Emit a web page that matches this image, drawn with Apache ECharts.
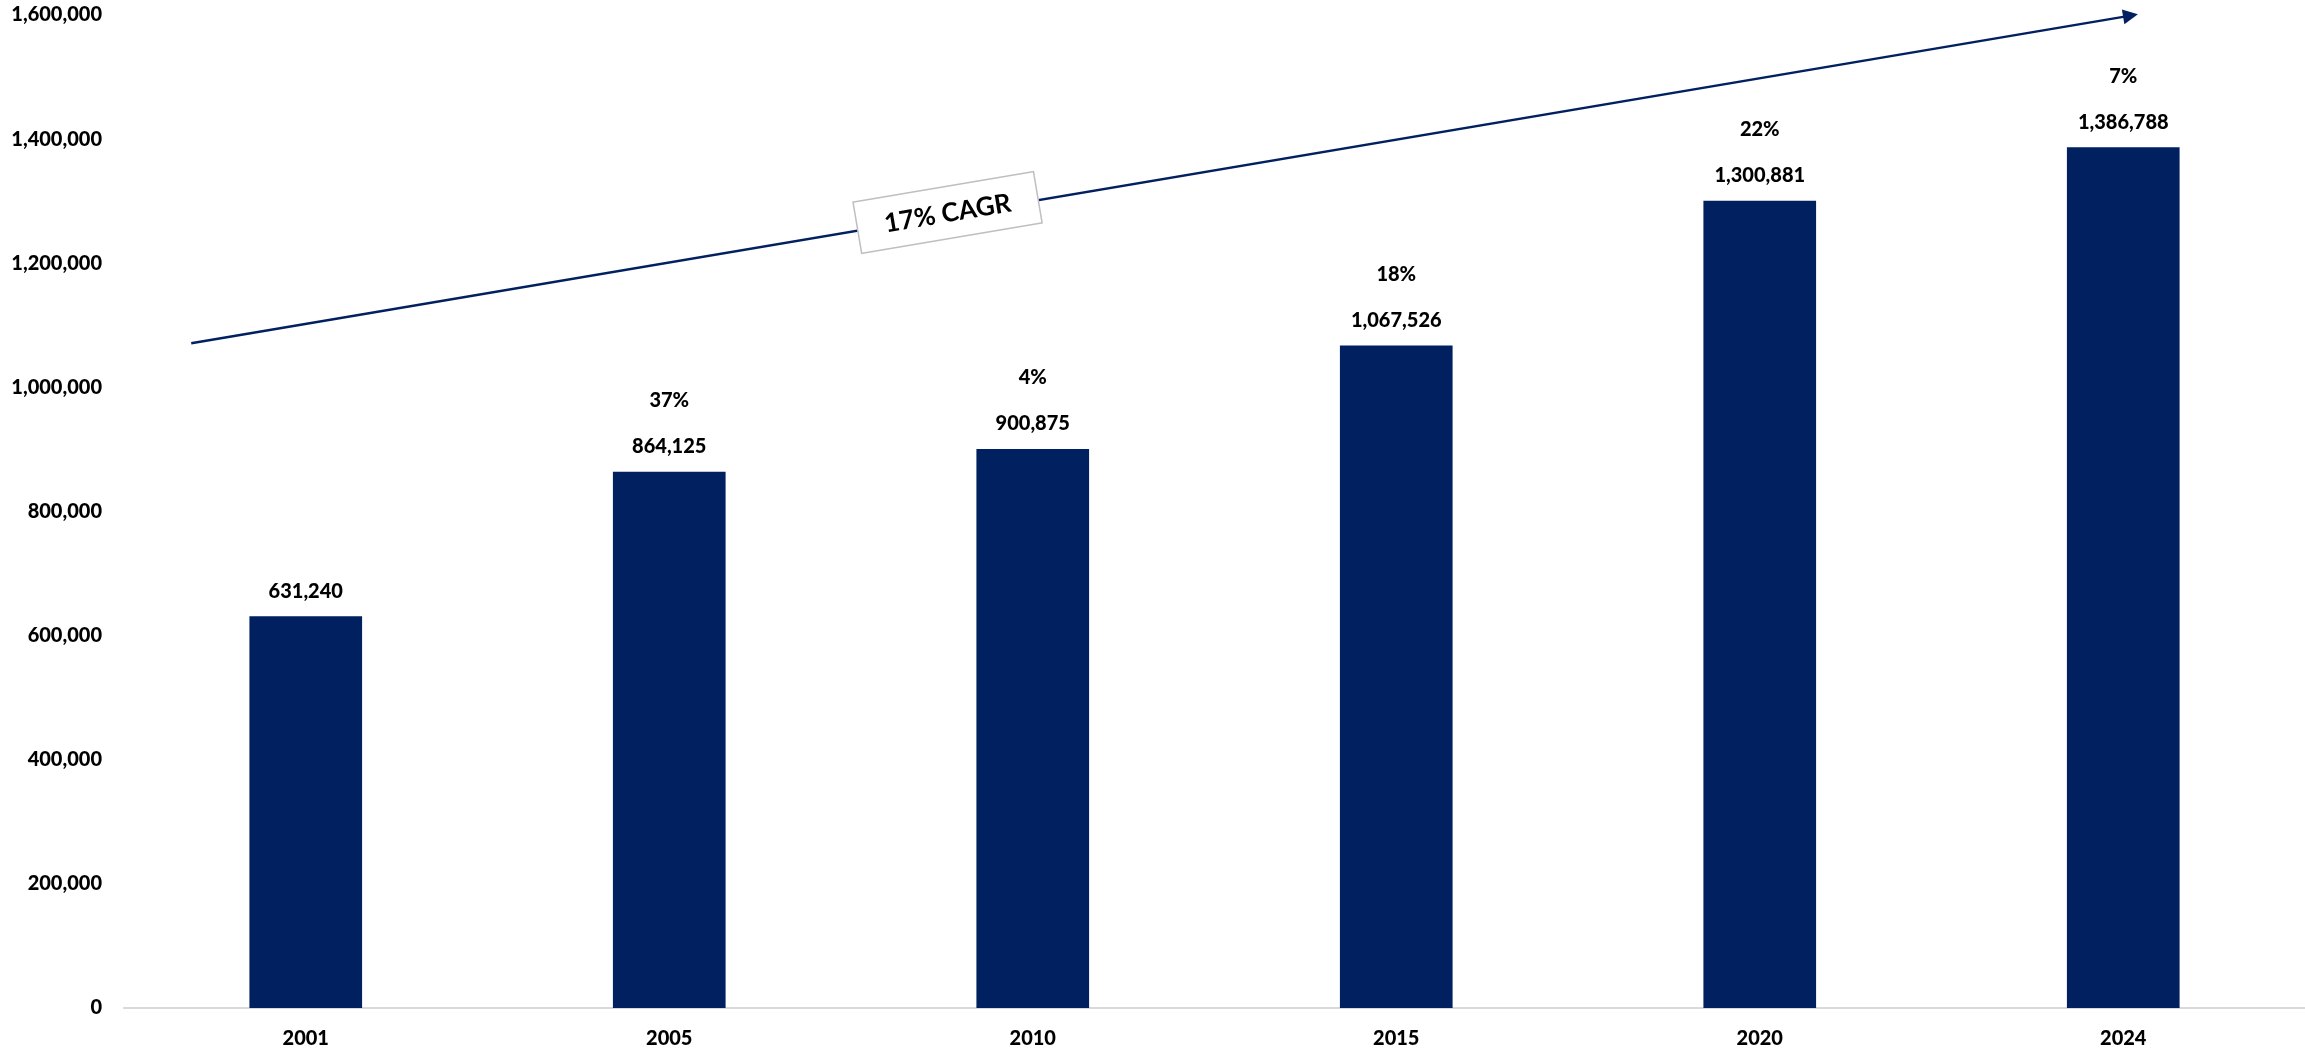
<!DOCTYPE html>
<html>
<head>
<meta charset="utf-8">
<script src="https://cdn.jsdelivr.net/npm/echarts@6/dist/echarts.min.js"></script>
<style>
html,body{margin:0;padding:0;background:#fff;}
#chart{width:2305px;height:1059px;}
</style>
</head>
<body>
<div id="chart"></div>
<script>
// ---- data ----
const categories = ['2001', '2005', '2010', '2015', '2020', '2024'];
const values = [631240, 864125, 900875, 1067526, 1300881, 1386788];
const growth = ['', '37%', '4%', '18%', '22%', '7%'];
const yMin = 0;
const yMax = 1600000;
const yInterval = 200000;
// trend arrow (x in category-index units, y in axis value units)
const trendStart = [-0.315, 1071000];
const trendEnd = [5.02, 1599000];
const cagrText = '17% CAGR';
const cagrPos = 0.39; // fraction along the arrow

const FONT = 'Lato';
const W = 900;
const NAVY = '#002060';

const fmt = v => v.toLocaleString('en-US');

const chart = echarts.init(document.getElementById('chart'));

chart.setOption({
  backgroundColor: '#fff',
  animation: false,
  grid: { left: 124, right: -7, top: 15, bottom: 51, containLabel: false },
  xAxis: [
    {
      type: 'category',
      data: categories,
      axisLine: { show: true, lineStyle: { color: '#d9d9d9', width: 2 } },
      axisTick: { show: false },
      axisLabel: { color: '#000', fontFamily: FONT, fontWeight: W, fontSize: 20, margin: 21 }
    },
    { type: 'value', min: -0.5, max: 5.5, show: false }
  ],
  yAxis: {
    type: 'value',
    min: yMin, max: yMax, interval: yInterval,
    axisLine: { show: false },
    axisTick: { show: false },
    splitLine: { show: false },
    axisLabel: {
      color: '#000', fontFamily: FONT, fontWeight: W, fontSize: 20, margin: 22,
      formatter: v => fmt(v)
    }
  },
  series: [
    {
      type: 'bar',
      data: values,
      barWidth: '31%',
      itemStyle: { color: NAVY },
      label: {
        show: true,
        position: 'top',
        distance: 2,
        formatter: p => {
          const g = growth[p.dataIndex];
          return (g ? '{p|' + g + '}\n' : '') + '{v|' + fmt(p.value) + '}';
        },
        rich: {
          p: { color: '#000', fontFamily: FONT, fontWeight: W, fontSize: 20, lineHeight: 46 },
          v: { color: '#000', fontFamily: FONT, fontWeight: W, fontSize: 20, lineHeight: 46 }
        }
      }
    },
    {
      type: 'lines',
      coordinateSystem: 'cartesian2d',
      xAxisIndex: 1,
      yAxisIndex: 0,
      clip: false,
      silent: true,
      z: 2,
      symbol: ['none', 'triangle'],
      symbolSize: 15,
      lineStyle: { color: NAVY, width: 2.5, opacity: 1, curveness: 0 },
      data: [{ coords: [trendStart, trendEnd] }]
    }
  ]
});

// CAGR callout placed on the trend arrow via the chart's own scales
const p0 = chart.convertToPixel({ xAxisIndex: 1, yAxisIndex: 0 }, trendStart);
const p1 = chart.convertToPixel({ xAxisIndex: 1, yAxisIndex: 0 }, trendEnd);
const cx = p0[0] + (p1[0] - p0[0]) * cagrPos;
const cy = p0[1] + (p1[1] - p0[1]) * cagrPos;
const ang = Math.atan2(-(p1[1] - p0[1]), p1[0] - p0[0]);

chart.setOption({
  graphic: [{
    type: 'group',
    x: cx, y: cy - 3,
    rotation: ang,
    z: 100,
    children: [
      {
        type: 'rect',
        z: 100,
        shape: { x: -91.5, y: -26, width: 183, height: 52 },
        style: { fill: '#fff', stroke: '#bfbfbf', lineWidth: 1.5 }
      },
      {
        type: 'text',
        z: 101,
        x: 0, y: 1,
        style: {
          text: cagrText, fill: '#000', fontFamily: FONT, fontWeight: 'bold', fontSize: 26,
          align: 'center', verticalAlign: 'middle'
        }
      }
    ]
  }]
});
</script>
</body>
</html>
